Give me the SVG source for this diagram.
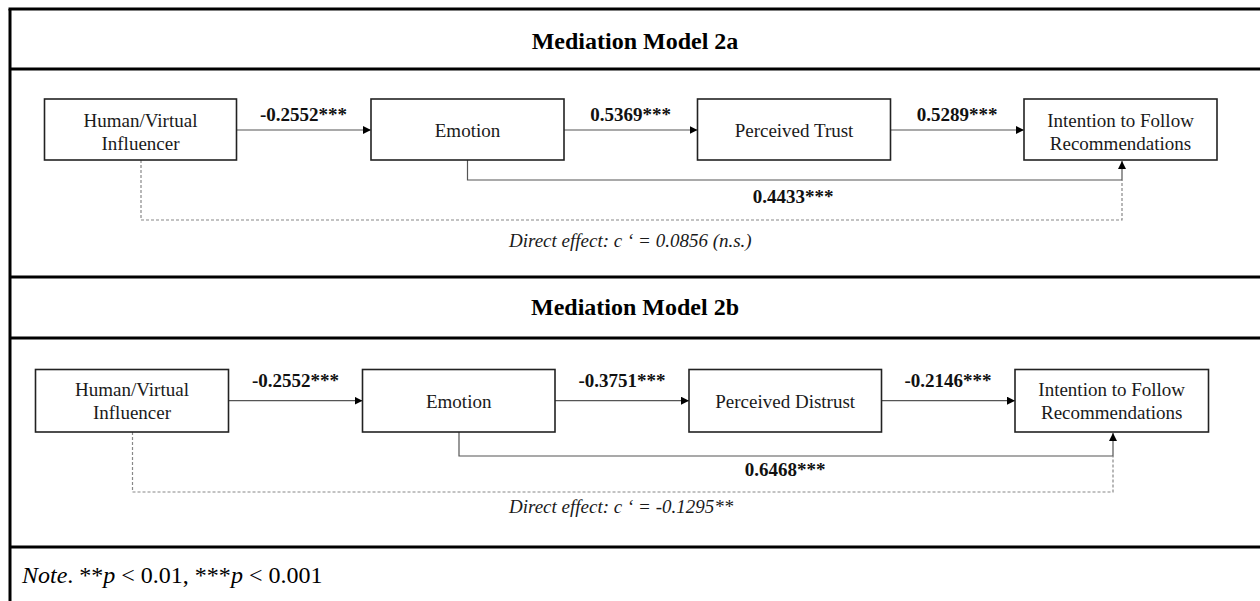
<svg xmlns="http://www.w3.org/2000/svg" width="1260" height="601" viewBox="0 0 1260 601">
<style>
.frame{stroke:#000;stroke-width:3;fill:none}
.box{fill:#fff;stroke:#222;stroke-width:1.6}
.t{font-family:"Liberation Serif","Times New Roman",serif;font-size:19px;fill:#1a1a1a;text-anchor:middle}
.title{font-family:"Liberation Serif","Times New Roman",serif;font-size:24px;font-weight:bold;fill:#000;text-anchor:middle}
.lbl{font-family:"Liberation Serif","Times New Roman",serif;font-size:19px;font-weight:bold;fill:#111;text-anchor:middle}
.it{font-family:"Liberation Serif","Times New Roman",serif;font-size:19px;font-style:italic;fill:#1a1a1a}
.note{font-family:"Liberation Serif","Times New Roman",serif;font-size:24px;fill:#000}
.solid{stroke:#555;stroke-width:1.2;fill:none}
.dash{stroke:#888;stroke-width:1.2;fill:none;stroke-dasharray:3,2}
</style>
<defs>
<marker id="ah" viewBox="0 0 10 10" refX="10" refY="5" markerWidth="8" markerHeight="8" markerUnits="userSpaceOnUse" orient="auto">
<path d="M0,0 L10,5 L0,10 Z" fill="#000"/>
</marker>
</defs>
<rect width="1260" height="601" fill="#fff"/>
<g id="frame">
<line class="frame" x1="10" y1="9" x2="10" y2="601"/>
<line class="frame" x1="8.5" y1="9" x2="1260" y2="9"/>
<line class="frame" x1="10" y1="69" x2="1260" y2="69"/>
<line class="frame" x1="10" y1="277" x2="1260" y2="277"/>
<line class="frame" x1="10" y1="338" x2="1260" y2="338"/>
<line class="frame" x1="10" y1="547" x2="1260" y2="547"/>
</g>
<text class="title" x="635" y="49">Mediation Model 2a</text>
<text class="title" x="635" y="315">Mediation Model 2b</text>
<g id="connectors">
<line class="solid" x1="236.5" y1="130" x2="371" y2="130" marker-end="url(#ah)"/>
<line class="solid" x1="564" y1="130" x2="697.5" y2="130" marker-end="url(#ah)"/>
<line class="solid" x1="890.5" y1="130" x2="1024" y2="130" marker-end="url(#ah)"/>
<polyline class="solid" points="467.5,160 467.5,180 1122,180 1122,161" marker-end="url(#ah)"/>
<polyline class="dash" points="141,160 141,220 1122,220 1122,180"/>
<line class="solid" x1="228.5" y1="400.7" x2="362.5" y2="400.7" marker-end="url(#ah)"/>
<line class="solid" x1="555" y1="400.7" x2="689" y2="400.7" marker-end="url(#ah)"/>
<line class="solid" x1="881.5" y1="400.7" x2="1015" y2="400.7" marker-end="url(#ah)"/>
<polyline class="solid" points="459,432 459,456 1113,456 1113,433" marker-end="url(#ah)"/>
<polyline class="dash" points="132.5,432 132.5,492 1113,492 1113,456"/>
</g>
<g id="labels">
<text class="lbl" x="303.5" y="120.5">-0.2552***</text>
<text class="lbl" x="630.5" y="120.5">0.5369***</text>
<text class="lbl" x="957" y="120.5">0.5289***</text>
<text class="lbl" x="793" y="202.5">0.4433***</text>
<text class="it" x="509" y="246.5">Direct effect: c ‘ = 0.0856 (n.s.)</text>
<text class="lbl" x="295.5" y="387.3">-0.2552***</text>
<text class="lbl" x="622" y="387.3">-0.3751***</text>
<text class="lbl" x="948" y="387.3">-0.2146***</text>
<text class="lbl" x="785" y="476">0.6468***</text>
<text class="it" x="509" y="513.3">Direct effect: c ‘ = -0.1295**</text>
</g>
<g id="n2a-human">
<rect class="box" x="44.5" y="99" width="192" height="61"/>
<text class="t" x="140.5" y="126.7">Human/Virtual</text>
<text class="t" x="140.5" y="150">Influencer</text>
</g>
<g id="n2a-emotion">
<rect class="box" x="371" y="99" width="193" height="61"/>
<text class="t" x="467.5" y="136.7">Emotion</text>
</g>
<g id="n2a-trust">
<rect class="box" x="697.5" y="99" width="193" height="61"/>
<text class="t" x="794" y="136.7">Perceived Trust</text>
</g>
<g id="n2a-intention">
<rect class="box" x="1024" y="99" width="193" height="61"/>
<text class="t" x="1120.5" y="126.7">Intention to Follow</text>
<text class="t" x="1120.5" y="150">Recommendations</text>
</g>
<g id="n2b-human">
<rect class="box" x="35.5" y="369.5" width="193" height="62.5"/>
<text class="t" x="132" y="396">Human/Virtual</text>
<text class="t" x="132" y="419.3">Influencer</text>
</g>
<g id="n2b-emotion">
<rect class="box" x="362.5" y="369.5" width="192.5" height="62.5"/>
<text class="t" x="458.7" y="408">Emotion</text>
</g>
<g id="n2b-distrust">
<rect class="box" x="689" y="369.5" width="192.5" height="62.5"/>
<text class="t" x="785.2" y="408">Perceived Distrust</text>
</g>
<g id="n2b-intention">
<rect class="box" x="1015" y="369.5" width="193.5" height="62.5"/>
<text class="t" x="1111.7" y="396">Intention to Follow</text>
<text class="t" x="1111.7" y="419.3">Recommendations</text>
</g>
<text class="note" x="22" y="582.7"><tspan font-style="italic">Note</tspan>. **<tspan font-style="italic">p</tspan> &lt; 0.01, ***<tspan font-style="italic">p</tspan> &lt; 0.001</text>
</svg>
